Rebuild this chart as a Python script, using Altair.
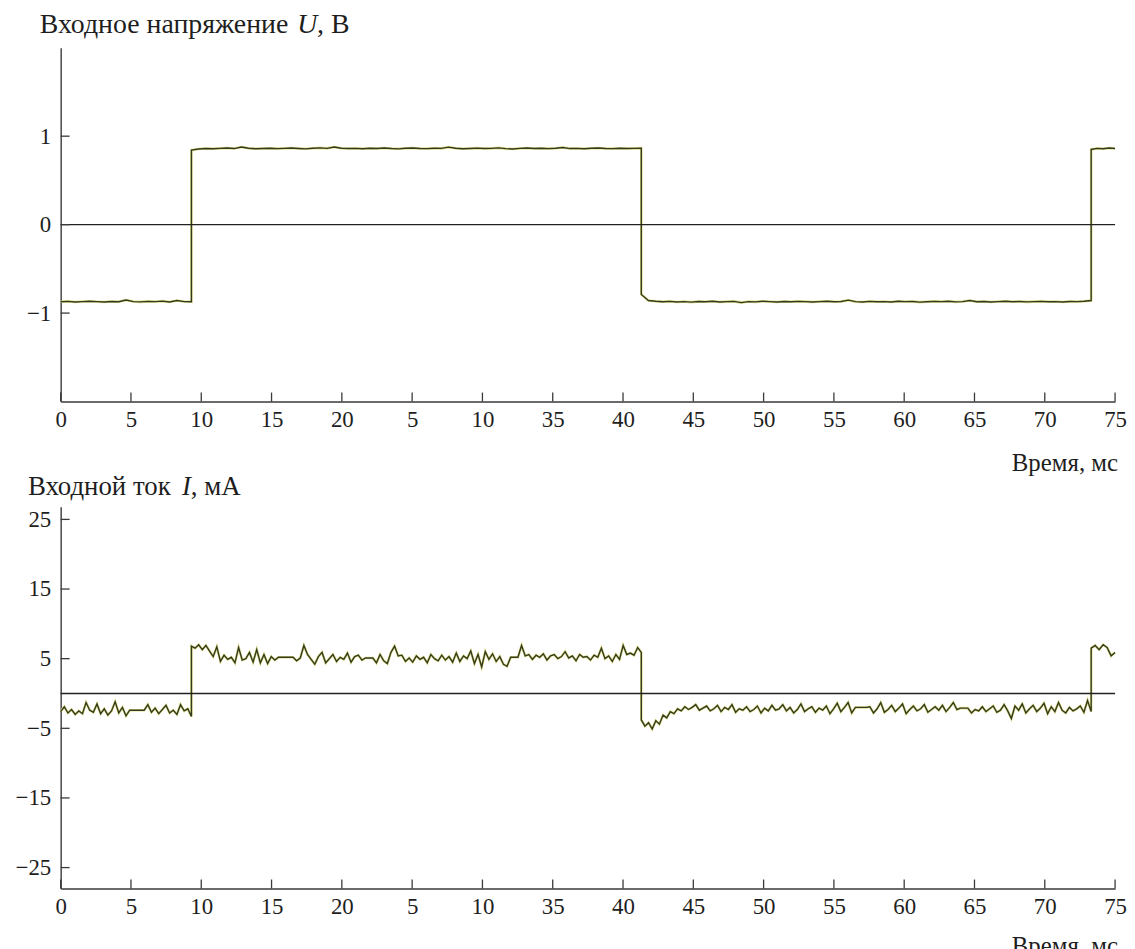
import json
import altair as alt
import numpy as np
import pandas as pd

# ---------------- data ----------------
edges_ms = [0.0, 9.3, 41.3, 73.3, 75.0]

volt_seg1 = [-0.872, -0.868, -0.874, -0.87, -0.866, -0.871, -0.875, -0.869, -0.872, -0.852,
             -0.87, -0.873, -0.868, -0.871, -0.865, -0.874, -0.858, -0.87, -0.872]
volt_seg2 = [0.842, 0.855, 0.86, 0.858, 0.862, 0.866, 0.86, 0.878, 0.863, 0.858,
             0.861, 0.864, 0.859, 0.862, 0.866, 0.861, 0.857, 0.864, 0.868, 0.862,
             0.878, 0.864, 0.86, 0.862, 0.858, 0.864, 0.861, 0.866, 0.86, 0.857,
             0.863, 0.867, 0.861, 0.859, 0.864, 0.862, 0.876, 0.863, 0.858, 0.861,
             0.865, 0.86, 0.862, 0.868, 0.859, 0.855, 0.862, 0.866, 0.861, 0.863,
             0.859, 0.864, 0.872, 0.86, 0.862, 0.858, 0.864, 0.866, 0.861, 0.859,
             0.863, 0.86, 0.862, 0.865]
volt_seg3 = [-0.79, -0.858, -0.866, -0.872, -0.868, -0.874, -0.87, -0.876, -0.869, -0.872,
             -0.867, -0.874, -0.871, -0.868, -0.882, -0.87, -0.873, -0.866, -0.871, -0.875,
             -0.869, -0.872, -0.868, -0.871, -0.874, -0.87, -0.866, -0.872, -0.869, -0.854,
             -0.871, -0.875, -0.868, -0.872, -0.87, -0.874, -0.867, -0.871, -0.869, -0.876,
             -0.872, -0.868, -0.871, -0.866, -0.873, -0.87, -0.858, -0.872, -0.869, -0.874,
             -0.87, -0.867, -0.872, -0.869, -0.873, -0.871, -0.868, -0.872, -0.87, -0.874,
             -0.869, -0.871, -0.866, -0.858]
volt_seg4 = [0.85, 0.862, 0.858, 0.866, 0.86]

cur_seg1 = [-2.6, -1.9, -2.8, -2.3, -3.0, -2.5, -2.9, -1.3, -2.4, -2.7,
            -1.5, -2.9, -2.2, -3.1, -2.5, -1.2, -2.8, -2.0, -3.2, -2.4,
            -2.4, -2.4, -2.4, -2.4, -1.6, -2.7, -2.1, -2.9, -2.3, -1.7,
            -2.8, -2.4, -3.0, -1.6, -2.5, -2.2, -3.3]
cur_seg2 = [6.8, 6.5, 7.0, 6.3, 6.9, 6.1, 5.3, 6.7, 4.6, 5.5,
            4.9, 5.2, 4.4, 6.6, 4.8, 5.0, 5.9, 4.5, 6.3, 4.4,
            5.6, 4.3, 5.3, 4.8, 5.2, 5.2, 5.2, 5.2, 5.2, 4.7,
            5.1, 6.9, 5.6, 4.9, 4.2, 5.3, 5.9, 4.4, 5.0, 5.6,
            4.6, 5.2, 4.9, 5.8, 4.5, 5.3, 5.5, 4.8, 5.1, 5.1,
            5.1, 4.4, 5.6, 4.7, 4.3, 5.9, 6.8, 5.4, 5.5, 4.6,
            5.1, 4.5, 5.4, 4.9, 5.2, 4.4, 5.6, 5.0, 4.7, 5.5,
            4.8, 5.3, 4.5, 5.8, 4.6, 5.4, 5.0, 6.1, 4.3, 5.6,
            3.8, 6.0, 4.9, 5.7, 4.6, 5.3, 4.2, 3.9, 5.2, 5.2,
            5.2, 6.9, 5.4, 5.6, 4.9, 5.5, 5.2, 5.7, 4.8, 5.4,
            5.6, 5.0, 5.3, 6.0, 5.1, 5.4, 4.7, 5.6, 5.2, 5.3,
            4.8, 5.5, 5.2, 6.5, 5.0, 5.4, 4.6, 5.6, 4.9, 6.9,
            5.6, 5.8, 5.5, 6.6, 5.9]
cur_seg3 = [-3.8, -4.7, -4.2, -5.1, -3.9, -4.4, -3.1, -3.5, -2.6, -2.9,
            -2.2, -2.5, -1.9, -2.3, -2.0, -1.6, -2.4, -2.1, -1.8, -2.5,
            -2.2, -1.7, -2.6, -2.0, -2.3, -1.6, -2.7, -2.2, -2.4, -1.9,
            -2.6, -2.3, -1.8, -2.8, -2.1, -2.5, -1.7, -2.4, -2.2, -1.6,
            -2.5, -2.0, -2.8, -2.3, -1.5, -2.6, -2.2, -1.9, -2.7, -2.1,
            -2.4, -1.8, -2.9, -2.2, -1.4, -2.6, -2.0, -1.3, -2.8, -2.0,
            -2.0, -2.0, -2.0, -1.9, -2.8, -2.2, -1.3, -2.7, -2.3, -1.7,
            -2.6, -2.1, -1.5, -2.9, -2.3, -1.8, -2.5, -2.2, -1.6, -2.7,
            -2.3, -1.9, -2.4, -1.7, -2.6, -2.0, -1.3, -2.3, -2.1, -2.1,
            -2.1, -2.8, -2.3, -2.5, -1.9, -2.6, -2.2, -1.8, -2.7, -2.4,
            -1.6, -2.5, -3.6, -1.8, -2.4, -1.5, -2.8, -2.2, -1.7, -2.6,
            -2.1, -1.4, -2.9, -1.9, -2.6, -1.3, -2.4, -2.8, -2.0, -2.5,
            -2.2, -1.8, -2.7, -1.0, -2.6]
cur_seg4 = [6.5, 6.9, 6.3, 7.0, 6.6, 5.4, 5.9]

x_tick_values = [0, 5, 10, 15, 20, 25, 30, 35, 40, 45, 50, 55, 60, 65, 70, 75]
x_tick_labels = ["0", "5", "10", "15", "20", "5", "10", "35", "40", "45",
                 "50", "55", "60", "65", "70", "75"]
volt_ticks = [-1, 0, 1]
cur_ticks = [-25, -15, -5, 5, 15, 25]

volt_title = ["Входное напряжение", "U", ", В"]
cur_title = ["Входной ток", "I", ", мА"]
x_title = "Время, мс"

# ---------------- style ----------------
W, H1, H2 = 1061, 356, 384
FONT = "Liberation Serif, Times New Roman, Tinos, DejaVu Serif, serif"
DARK = "#323c1c"
HALO = "#e2dc90"
AXC = "#3a3a3a"
TXT = "#1e1e1e"
TICK = 9


def series_df(segs):
    t, v = [], []
    for k, vals in enumerate(segs):
        ts = np.linspace(edges_ms[k], edges_ms[k + 1], len(vals))
        t.extend(ts.tolist())
        v.extend(vals)
    return pd.DataFrame({"t": t, "v": v, "i": list(range(len(t)))})


label_expr = json.dumps(x_tick_labels) + "[round(datum.value/5)]"


def text(txt, x_px, y_px, size, italic=False, align="left"):
    return alt.Chart(pd.DataFrame({"s": [txt]})).mark_text(
        align=align, baseline="alphabetic", font=FONT, fontSize=size,
        fontStyle="italic" if italic else "normal", color=TXT
    ).encode(x=alt.value(x_px), y=alt.value(y_px), text="s:N")


def panel(segs, ydom, yticks, H, texts):
    df = series_df(segs)
    xenc = alt.X("t:Q", scale=alt.Scale(domain=[0, 75], nice=False, zero=False),
                 axis=alt.Axis(values=x_tick_values, labelExpr=label_expr, title=None,
                               ticks=False, grid=False, labelFlush=False,
                               labelPadding=7, labelOverlap=False))
    yenc = alt.Y("v:Q", scale=alt.Scale(domain=ydom, nice=False, zero=False),
                 axis=alt.Axis(values=yticks, title=None, ticks=False, grid=False,
                               format="d", labelPadding=10, labelOverlap=False))
    halo = alt.Chart(df).mark_line(color=HALO, strokeWidth=2.6).encode(
        x=xenc, y=yenc, order="i:Q")
    core = alt.Chart(df).mark_line(color=DARK, strokeWidth=1.4).encode(
        x=alt.X("t:Q", title=None), y=alt.Y("v:Q", title=None), order="i:Q")
    zero = alt.Chart(pd.DataFrame({"v": [0]})).mark_rule(color="#222", strokeWidth=1.3).encode(
        y=alt.Y("v:Q", title=None))
    xt = alt.Chart(pd.DataFrame({"t": x_tick_values})).mark_rule(color=AXC, strokeWidth=1.3).encode(
        x=alt.X("t:Q", title=None), y=alt.value(H), y2=alt.value(H - TICK))
    yt = alt.Chart(pd.DataFrame({"v": yticks})).mark_rule(color=AXC, strokeWidth=1.3).encode(
        y=alt.Y("v:Q", title=None), x=alt.value(0), x2=alt.value(TICK))
    layers = [halo, core, zero, xt, yt] + texts
    return alt.layer(*layers).properties(width=W, height=H)


top = panel([volt_seg1, volt_seg2, volt_seg3, volt_seg4], [-2.0, 2.0], volt_ticks, H1, [
    text(volt_title[0], -21, -15, 28),
    text(volt_title[1], 238, -15, 28, italic=True),
    text(volt_title[2], 258, -15, 28),
])

bottom = panel([cur_seg1, cur_seg2, cur_seg3, cur_seg4], [-28.0, 26.8], cur_ticks, H2, [
    text(x_title, W + 3, -36, 25, align="right"),
    text(cur_title[0], -33, -12, 27),
    text(cur_title[1], 122, -12, 27, italic=True),
    text(cur_title[2], 131, -12, 27),
    text(x_title, W + 3, H2 + 66, 25, align="right"),
])

chart = alt.vconcat(top, bottom, spacing=20).properties(
    padding={"left": 7, "top": 0, "right": 0, "bottom": 0}
).configure_view(stroke=None).configure_axis(
    labelFont=FONT, labelFontSize=23, labelColor=TXT,
    domainColor=AXC, domainWidth=1.4
)

chart.save("out.html", embed_options={"renderer": "svg", "actions": False})
